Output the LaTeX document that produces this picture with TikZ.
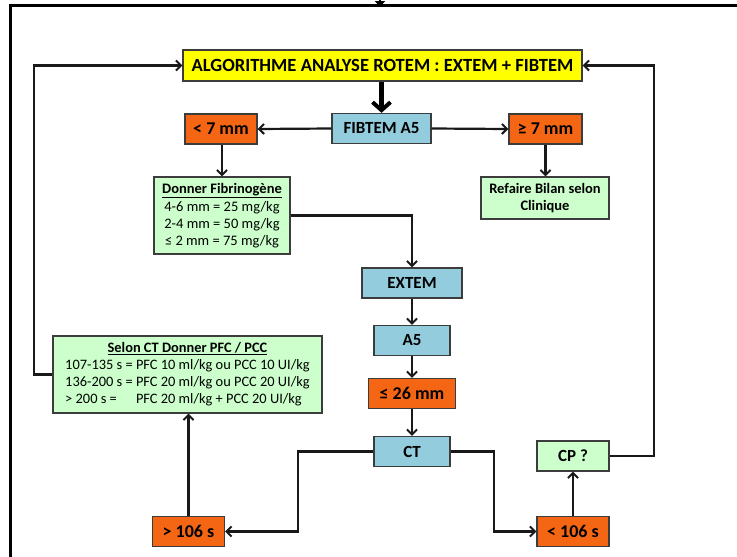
\documentclass[tikz,border=0pt]{standalone}
\usepackage{fontspec}
\usepackage{calc}
\setmainfont{Carlito}
\usetikzlibrary{arrows.meta}
\definecolor{ylw}{RGB}{255,255,0}
\definecolor{lblue}{RGB}{147,205,221}
\definecolor{orng}{RGB}{245,102,20}
\definecolor{lgreen}{RGB}{204,255,204}
\definecolor{edge}{RGB}{60,60,60}
\begin{document}
\begin{tikzpicture}[x=1pt,y=-1pt]
\tikzset{
  box/.style={draw=edge, line width=1.3pt, inner sep=0pt, align=center, text=black},
  ybox/.style={box, fill=ylw, minimum width=399pt, minimum height=31pt, font=\bfseries\fontsize{18.6}{21}\selectfont},
  bbox/.style={box, fill=lblue, minimum height=30pt, font=\bfseries\fontsize{17}{19}\selectfont},
  obox/.style={box, fill=orng, minimum height=30pt, font=\bfseries\fontsize{18}{20}\selectfont},
  gbox/.style={box, fill=lgreen},
  conn/.style={line width=2.2pt, draw=black!90, -{Straight Barb[length=5pt,width=10pt,line width=2pt]}},
  bigconn/.style={line width=4.5pt, draw=black, -{Straight Barb[length=8pt,width=18pt,line width=4pt]}}
}
\useasboundingbox (0,0) rectangle (737,557);
% frame
\draw[line width=3pt, black] (737,5) -- (10,5) -- (10,557);
\coordinate (topin) at (380,-2);
\coordinate (topend) at (380,7);
\draw[line width=2.4pt, -{Triangle[length=6pt,width=10pt]}] (topin) -- (topend);

% nodes
\node[ybox] (title) at (382.5,65.5) {ALGORITHME ANALYSE ROTEM : EXTEM + FIBTEM};
\node[bbox, minimum width=99pt] (fib) at (381.5,128.5) {FIBTEM A5};
\node[obox, minimum width=72pt] (lt7) at (221,129) {< 7 mm};
\node[obox, minimum width=73pt] (ge7) at (545.5,129) {≥ 7 mm};
\node[gbox, minimum width=136pt, minimum height=77pt, font=\fontsize{14.5}{17}\selectfont] (don) at (222,215.5)
  {\textbf{\underline{Donner Fibrinogène}}\\[1pt]4-6 mm = 25 mg/kg\\2-4 mm = 50 mg/kg\\≤ 2 mm = 75 mg/kg};
\node[gbox, minimum width=128pt, minimum height=42pt, font=\bfseries\fontsize{14.5}{17}\selectfont] (ref) at (545,198)
  {Refaire Bilan selon\\Clinique};
\node[bbox, minimum width=100pt] (ext) at (412,283) {EXTEM};
\node[bbox, minimum width=76pt] (a5) at (412,340.5) {A5};
\node[obox, minimum width=87pt] (le26) at (412,393.5) {≤ 26 mm};
\node[bbox, minimum width=76pt] (ct) at (412,451.5) {CT};
\node[obox, minimum width=72pt] (gt106) at (188.5,531.5) {> 106 s};
\node[obox, minimum width=72pt] (lt106) at (573,531.5) {< 106 s};
\node[gbox, minimum width=72pt, minimum height=30pt, font=\bfseries\fontsize{17}{19}\selectfont] (cp) at (573,456) {CP ?};
\node[gbox, minimum width=269pt, minimum height=77pt, font=\fontsize{14.4}{17.2}\selectfont] (sel) at (187.5,374.5)
  {\begin{tabular}{@{}l@{}}
   \multicolumn{1}{c}{\textbf{\underline{Selon CT Donner PFC / PCC}}}\\
   107-135 s = PFC 10 ml/kg ou PCC 10 UI/kg\\
   136-200 s = PFC 20 ml/kg ou PCC 20 UI/kg\\
   \makebox[\widthof{107-135 s = }][l]{> 200 s =}PFC 20 ml/kg + PCC 20 UI/kg
   \end{tabular}};

% connectors
\draw[bigconn] (title.south -| fib.north) -- (fib.north);
\draw[conn] (fib.west) -- (lt7.east);
\draw[conn] (fib.east) -- (ge7.west);
\draw[conn] (lt7.south -| don.north) -- (don.north);
\draw[conn] (ge7.south) -- (ge7.south |- ref.north);
\draw[conn] (don.east) -| (ext.north);
\draw[conn] (ext) -- (a5);
\draw[conn] (a5) -- (le26);
\draw[conn] (le26) -- (ct);
\draw[conn] (ct.west) -- ++(-75,0) |- (gt106.east);
\draw[conn] (gt106.north) -- (gt106.north |- sel.south);
\draw[conn] (sel.west) -- ++(-18,0) |- (title.west);
\draw[conn] (ct.east) -- ++(43,0) |- (lt106.west);
\draw[conn] (lt106.north) -- (cp.south);
\draw[conn] (cp.east) -- ++(44,0) |- (title.east);
\end{tikzpicture}
\end{document}
